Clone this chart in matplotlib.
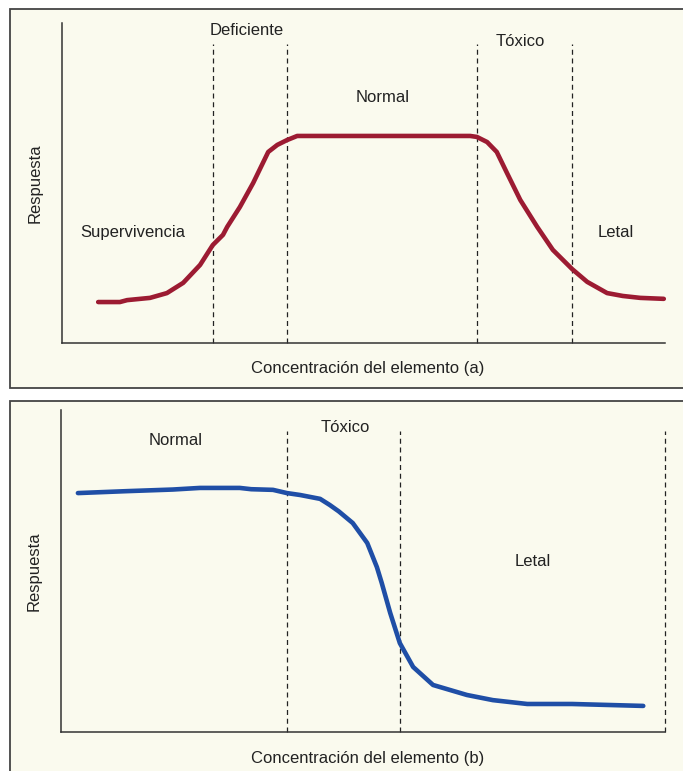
import matplotlib
matplotlib.use("Agg")
import matplotlib.pyplot as plt
from matplotlib.patches import Rectangle

plt.rcParams["font.family"] = ["Liberation Sans", "DejaVu Sans"]

# Panel (a): respuesta vs concentración (elemento esencial)
conc_a = [6.0, 9.6, 10.8, 14.6, 17.4, 20.1, 22.9, 25.0, 26.7, 27.4, 29.5, 31.7,
          34.2, 35.7, 37.3, 39.0, 67.7, 68.8, 70.5, 72.1, 73.8, 76.0, 78.8,
          81.4, 84.6, 87.1, 90.4, 93.0, 95.9, 99.8]
resp_a = [12.8, 12.8, 13.4, 14.1, 15.6, 18.8, 24.4, 30.6, 33.8, 36.3, 42.5, 50.0,
          59.7, 61.9, 63.4, 64.7, 64.7, 64.4, 62.8, 59.7, 53.1, 44.7, 36.3,
          29.1, 23.1, 19.1, 15.6, 14.7, 14.1, 13.8]
limites_a = [25.0, 37.3, 68.8, 84.6]

# Panel (b): elemento no esencial
conc_b = [2.8, 10.9, 18.5, 23.0, 29.6, 31.5, 35.1, 37.4, 39.6, 42.9, 44.5, 46.0,
          48.3, 50.7, 52.3, 53.1, 54.5, 56.1, 58.3, 61.6, 67.2, 71.5, 77.2,
          84.6, 96.4]
resp_b = [74.2, 74.8, 75.3, 75.8, 75.8, 75.4, 75.2, 74.2, 73.6, 72.4, 70.5, 68.5,
          64.9, 58.7, 51.2, 46.3, 37.0, 27.6, 20.2, 14.6, 11.5, 9.9, 8.7,
          8.7, 8.1]
limites_b = [37.4, 56.1, 100.0]

W, H = 683, 771
BG = "#fafaee"
TXT = "#222222"
FS = 12

fig = plt.figure(figsize=(W / 100, H / 100), dpi=100)
fig.patch.set_facecolor("white")

# marcos de los dos paneles
for x0, y0, x1, y1 in [(10, 9, 684, 388), (10, 401, 684, 775)]:
    fig.patches.append(Rectangle((x0 / W, 1 - y1 / H), (x1 - x0) / W, (y1 - y0) / H,
                                 transform=fig.transFigure, facecolor=BG,
                                 edgecolor="#444444", linewidth=1.3, zorder=-5))


def panel(rect, x, y, limites, color, letra, etiquetas, ypos_xlabel):
    ax = fig.add_axes(rect)
    ax.set_zorder(2)
    ax.set_facecolor("none")
    ax.set_xlim(0, 100)
    ax.set_ylim(0, 100)
    for s in ["top", "right"]:
        ax.spines[s].set_visible(False)
    for s in ["left", "bottom"]:
        ax.spines[s].set_color("#333333")
        ax.spines[s].set_linewidth(1.1)
    ax.set_xticks([])
    ax.set_yticks([])
    ax.vlines(limites, 0, 93.4, colors="#222222", linestyles=(0, (4, 3)),
              linewidth=0.9, clip_on=False)
    ax.plot(x, y, color=color, linewidth=3.3, solid_capstyle="round",
            solid_joinstyle="round", zorder=3, clip_on=False)
    for tx, ty, t in etiquetas:
        ax.text(tx, ty, t, ha="center", va="center", fontsize=FS, color=TXT)
    ax.set_ylabel("Respuesta", fontsize=FS, color=TXT)
    ax.yaxis.set_label_coords(-0.032, 0.5)
    ax.set_xlabel(f"Concentración del elemento ({letra})", fontsize=FS, color=TXT)
    ax.xaxis.set_label_coords(0.507, ypos_xlabel)
    return ax


panel([62 / W, 1 - 343 / H, 603 / W, 320 / H], conc_a, resp_a, limites_a,
      "#9c1b32", "a",
      [(30.7, 97.5, "Deficiente"), (76.0, 94.1, "Tóxico"), (53.2, 76.6, "Normal"),
       (11.8, 34.4, "Supervivencia"), (91.9, 34.4, "Letal")], -0.055)

panel([61 / W, 1 - 732 / H, 604 / W, 322 / H], conc_b, resp_b, limites_b,
      "#1f4ea6", "b",
      [(18.9, 90.4, "Normal"), (47.0, 94.7, "Tóxico"), (78.1, 53.1, "Letal")], -0.06)

fig.savefig("out.png", dpi=100, facecolor=fig.get_facecolor())
